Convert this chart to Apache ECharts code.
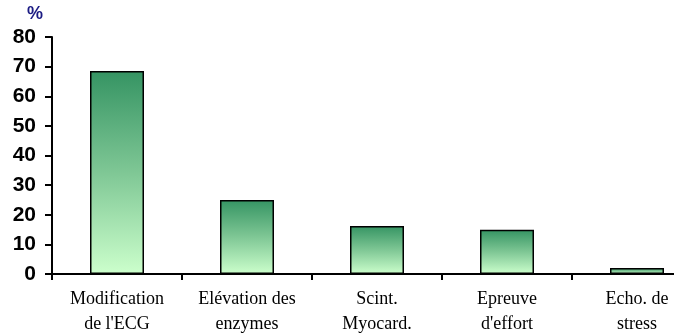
<!DOCTYPE html>
<html><head><meta charset="utf-8">
<script src="https://cdn.jsdelivr.net/npm/echarts@6/dist/echarts.min.js"></script>
<style>html,body{margin:0;padding:0;background:#fff}#c{width:674px;height:335px}</style>
</head><body><div id="c"></div>
<script>
const categories = ["Modification\nde l'ECG", "Elévation des\nenzymes", "Scint.\nMyocard.", "Epreuve\nd'effort", "Echo. de\nstress"];
const values = [68.5, 25, 16.2, 14.9, 2];
const yTicks = [0, 10, 20, 30, 40, 50, 60, 70, 80];

const chart = echarts.init(document.getElementById('c'));
chart.setOption({
  animation: false,
  grid: { left: 52, width: 650, top: 37, bottom: 61, containLabel: false, outerBoundsMode: 'none' },
  title: { text: '%', left: 27, top: 5, padding: 0, textStyle: { color: '#1c1c84', fontSize: 18, fontWeight: 'bold', fontFamily: 'Liberation Sans' } },
  xAxis: {
    type: 'category', data: categories,
    axisLine: { lineStyle: { color: '#000', width: 2 } },
    axisTick: { show: true, alignWithLabel: false, length: 6, lineStyle: { color: '#000', width: 2 } },
    axisLabel: { color: '#000', fontFamily: 'Liberation Serif', fontSize: 18, lineHeight: 25, margin: 13, interval: 0 }
  },
  yAxis: {
    type: 'value', min: yTicks[0], max: yTicks[yTicks.length - 1], interval: 10,
    splitLine: { show: false },
    axisLine: { show: true, lineStyle: { color: '#000', width: 2 } },
    axisTick: { show: true, length: 7, lineStyle: { color: '#000', width: 2 } },
    axisLabel: { color: '#000', fontFamily: 'Liberation Sans', fontSize: 21, fontWeight: 'bold', margin: 16 }
  },
  series: [{
    type: 'bar', data: values, barWidth: 54,
    itemStyle: {
      borderColor: '#000', borderWidth: 1.5,
      color: new echarts.graphic.LinearGradient(0, 0, 0, 1, [
        { offset: 0, color: '#359463' },
        { offset: 0.5, color: '#7fc795' },
        { offset: 1, color: '#ccffcc' }
      ])
    }
  }]
});
</script></body></html>
